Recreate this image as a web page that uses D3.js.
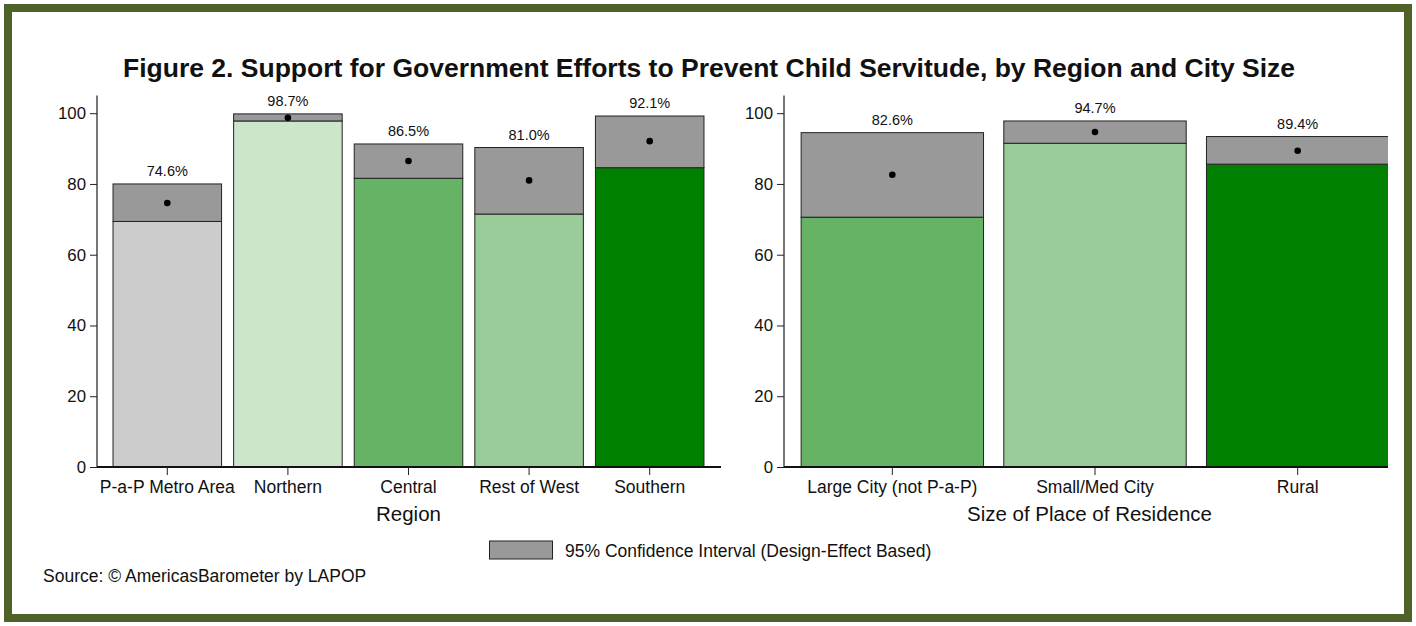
<!DOCTYPE html>
<html>
<head>
<meta charset="utf-8">
<script src="https://cdn.jsdelivr.net/npm/d3@7"></script>
<style>
  body { margin: 0; background: #ffffff; }
  text { font-family: Arial, "Liberation Sans", sans-serif; fill: #111; }
</style>
</head>
<body>
<div id="chart"></div>
<script>
// Region panel
const regions = ["P-a-P Metro Area", "Northern", "Central", "Rest of West", "Southern"];
const regionMeans = [74.6, 98.7, 86.5, 81.0, 92.1];
const regionLow = [69.4, 97.8, 81.6, 71.5, 84.6];
const regionHigh = [80.0, 99.8, 91.3, 90.3, 99.2];
const regionColors = ["#cccccc", "#cce6cc", "#66b366", "#99cc99", "#008000"];

// City size panel
const sizes = ["Large City (not P-a-P)", "Small/Med City", "Rural"];
const sizeMeans = [82.6, 94.7, 89.4];
const sizeLow = [70.6, 91.5, 85.6];
const sizeHigh = [94.5, 97.8, 93.4];
const sizeColors = ["#66b366", "#99cc99", "#008000"];

const yTicks = [0, 20, 40, 60, 80, 100];

const width = 1416, height = 626;
const fontFam = "Arial, 'Liberation Sans', sans-serif";

const svg = d3.select("#chart").append("svg")
  .attr("width", width)
  .attr("height", height);

// frame
svg.append("rect")
  .attr("x", 8).attr("y", 8)
  .attr("width", width - 16).attr("height", height - 16)
  .attr("fill", "#fff")
  .attr("stroke", "#4f6228")
  .attr("stroke-width", 8);

svg.append("text")
  .attr("x", 709).attr("y", 77)
  .attr("text-anchor", "middle")
  .attr("font-size", 26.5)
  .attr("font-weight", "bold")
  .text("Figure 2. Support for Government Efforts to Prevent Child Servitude, by Region and City Size");

const y = d3.scaleLinear().domain([0, 105]).range([467, 95.5]);

function drawPanel(opts) {
  const g = svg.append("g");
  const x = d3.scaleBand()
    .domain(opts.cats)
    .range(opts.range)
    .paddingInner(0.1)
    .paddingOuter(0.05);

  const clipId = "clip" + opts.id;
  svg.append("defs").append("clipPath").attr("id", clipId)
    .append("rect")
    .attr("x", opts.axisX).attr("y", 0)
    .attr("width", opts.axisEnd - opts.axisX).attr("height", 468);

  const bars = g.append("g").attr("clip-path", `url(#${clipId})`);
  const rows = opts.cats.map((c, i) => ({
    cat: c, mean: opts.means[i], lo: opts.low[i], hi: opts.high[i], color: opts.colors[i]
  }));

  bars.selectAll("rect.bar")
    .data(rows)
    .join("rect")
    .attr("class", "bar")
    .attr("x", d => x(d.cat))
    .attr("width", x.bandwidth())
    .attr("y", d => y(d.lo))
    .attr("height", d => y(0) - y(d.lo))
    .attr("fill", d => d.color)
    .attr("stroke", "#222")
    .attr("stroke-width", 1);

  bars.selectAll("rect.ci")
    .data(rows)
    .join("rect")
    .attr("class", "ci")
    .attr("x", d => x(d.cat))
    .attr("width", x.bandwidth())
    .attr("y", d => y(d.hi))
    .attr("height", d => y(d.lo) - y(d.hi))
    .attr("fill", "#999999")
    .attr("stroke", "#222")
    .attr("stroke-width", 1);

  bars.selectAll("circle")
    .data(rows)
    .join("circle")
    .attr("cx", d => x(d.cat) + x.bandwidth() / 2)
    .attr("cy", d => y(d.mean))
    .attr("r", 3.3)
    .attr("fill", "#000");

  g.selectAll("text.val")
    .data(rows)
    .join("text")
    .attr("class", "val")
    .attr("x", d => x(d.cat) + x.bandwidth() / 2)
    .attr("y", d => y(d.hi) - 8)
    .attr("text-anchor", "middle")
    .attr("font-size", 14.5)
    .text(d => d.mean.toFixed(1) + "%");

  // y axis
  const yAxis = g.append("g")
    .attr("transform", `translate(${opts.axisX},0)`)
    .call(d3.axisLeft(y).tickValues(yTicks).tickSize(7).tickPadding(4));
  yAxis.select(".domain").attr("stroke", "#777").attr("stroke-width", 2)
    .attr("d", `M0,${y(0)}V${y(105)}`);
  yAxis.selectAll(".tick line").attr("stroke", "#222");
  yAxis.selectAll(".tick text").attr("font-size", 16.8).attr("font-family", fontFam).attr("fill", "#111");

  // x axis
  const xAxis = g.append("g")
    .attr("transform", `translate(0,${y(0)})`)
    .call(d3.axisBottom(x).tickSize(8).tickPadding(6));
  xAxis.select(".domain").attr("stroke", "#111").attr("stroke-width", 2)
    .attr("d", `M${opts.axisX},0H${opts.axisEnd}`);
  xAxis.selectAll(".tick line").attr("stroke", "#222");
  xAxis.selectAll(".tick text").attr("font-size", 17.5).attr("font-family", fontFam).attr("fill", "#111");

  g.append("text")
    .attr("x", (opts.range[0] + Math.min(opts.range[1], opts.axisEnd)) / 2 + opts.titleShift)
    .attr("y", 521)
    .attr("text-anchor", "middle")
    .attr("font-size", 20.5)
    .text(opts.title);
}

drawPanel({
  id: "a", cats: regions, means: regionMeans, low: regionLow, high: regionHigh,
  colors: regionColors, range: [107, 710], axisX: 97, axisEnd: 721,
  title: "Region", titleShift: 0
});

drawPanel({
  id: "b", cats: sizes, means: sizeMeans, low: sizeLow, high: sizeHigh,
  colors: sizeColors, range: [791, 1399], axisX: 784, axisEnd: 1388,
  title: "Size of Place of Residence", titleShift: 0
});

// legend
svg.append("rect")
  .attr("x", 489.5).attr("y", 541)
  .attr("width", 63).attr("height", 18)
  .attr("fill", "#999999")
  .attr("stroke", "#222");
svg.append("text")
  .attr("x", 565).attr("y", 557)
  .attr("font-size", 17.5)
  .text("95% Confidence Interval (Design-Effect Based)");

svg.append("text")
  .attr("x", 43).attr("y", 582)
  .attr("font-size", 17.5)
  .text("Source: © AmericasBarometer by LAPOP");
</script>
</body>
</html>
